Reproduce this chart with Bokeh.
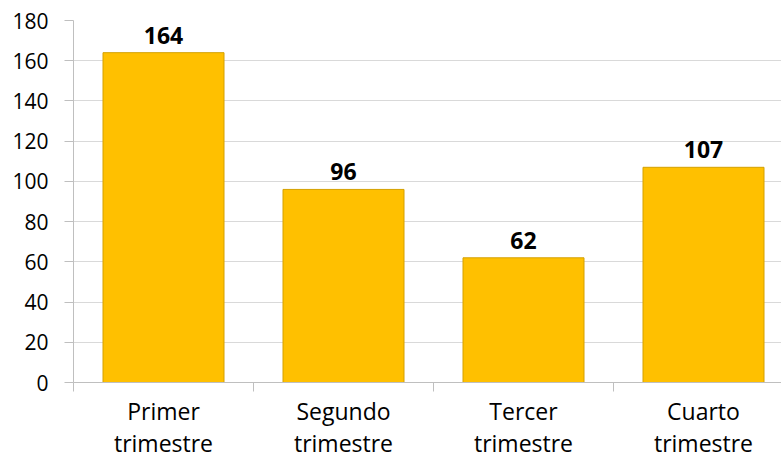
from bokeh.plotting import figure
from bokeh.models import ColumnDataSource, Range1d, FixedTicker, LabelSet
from bokeh.embed import file_html
from bokeh.resources import INLINE
from bokeh.core.properties import value

categories = ["Primer trimestre", "Segundo trimestre", "Tercer trimestre", "Cuarto trimestre"]
tick_labels = ["Primer\ntrimestre", "Segundo\ntrimestre", "Tercer\ntrimestre", "Cuarto\ntrimestre"]
values = [164, 96, 62, 107]
y_ticks = [0, 20, 40, 60, 80, 100, 120, 140, 160, 180]

centers = [i + 0.5 for i in range(len(categories))]
bounds = [i for i in range(len(categories) + 1)]

src = ColumnDataSource(dict(x=centers, top=values, label=[str(v) for v in values]))

W, H = 781, 461
left, right, top, bottom = 73, 0, 20, 79
plot_w = W - left - right

p = figure(width=W, height=H, output_backend="svg", toolbar_location=None,
           x_range=Range1d(0, plot_w / 180.0), y_range=Range1d(0, 180),
           min_border_left=left, min_border_right=right,
           min_border_top=top, min_border_bottom=bottom)
p.outline_line_color = None
p.background_fill_color = "white"

p.vbar(x="x", top="top", bottom=0, width=121 / 180.0, source=src,
       fill_color="#FFC000", line_color="#D4A000", line_width=1)

labels = LabelSet(x="x", y="top", text="label", source=src, text_align="center",
                  text_baseline="bottom", y_offset=9,
                  text_font=value("Open Sans"), text_font_style="bold",
                  text_font_size="23px", text_color="black")
p.add_layout(labels)

# y axis
p.yaxis.ticker = FixedTicker(ticks=y_ticks, minor_ticks=[])
p.yaxis.axis_line_color = "#BFBFBF"
p.yaxis.major_tick_line_color = "#BFBFBF"
p.yaxis.major_tick_out = 9
p.yaxis.major_tick_in = 0
p.yaxis.minor_tick_line_color = None
p.yaxis.major_label_standoff = 16
p.yaxis.major_label_text_font = "Open Sans"
p.yaxis.major_label_text_font_size = "21px"
p.yaxis.major_label_text_color = "black"

# x axis
p.xaxis.ticker = FixedTicker(ticks=centers, minor_ticks=bounds)
p.xaxis.major_label_overrides = {c: t for c, t in zip(centers, tick_labels)}
p.xaxis.axis_line_color = "#BFBFBF"
p.xaxis.major_tick_line_color = None
p.xaxis.major_tick_out = 0
p.xaxis.major_tick_in = 0
p.xaxis.minor_tick_line_color = "#BFBFBF"
p.xaxis.minor_tick_out = 9
p.xaxis.minor_tick_in = 0
p.xaxis.major_label_standoff = 3
p.xaxis.major_label_text_font = "Open Sans"
p.xaxis.major_label_text_font_size = "23px"
p.xaxis.major_label_text_line_height = 1.0
p.xaxis.major_label_text_baseline = "alphabetic"
p.xaxis.major_label_text_color = "black"

p.xgrid.grid_line_color = None
p.ygrid.grid_line_color = "#D9D9D9"
p.ygrid.ticker = FixedTicker(ticks=y_ticks)

open("out.html", "w").write(file_html(p, INLINE))
